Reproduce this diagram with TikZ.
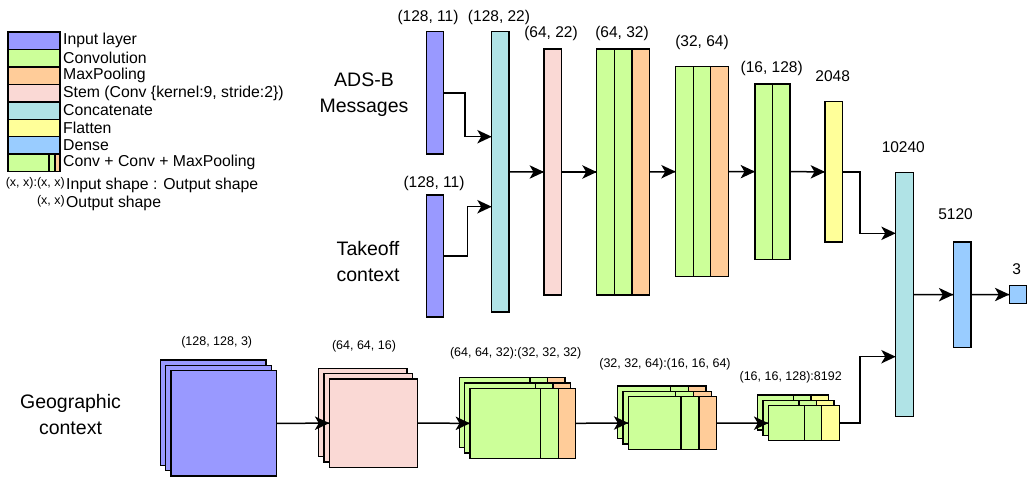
\documentclass[tikz,border=0pt]{standalone}
\usepackage{fontspec}
\setmainfont{Liberation Sans}
\definecolor{inpc}{HTML}{9999FF}
\definecolor{convc}{HTML}{CCFF99}
\definecolor{poolc}{HTML}{FFCC99}
\definecolor{stemc}{HTML}{FAD9D5}
\definecolor{catc}{HTML}{B0E3E6}
\definecolor{flatc}{HTML}{FFFF99}
\definecolor{densec}{HTML}{99CCFF}
\begin{document}
\begin{tikzpicture}[x=1pt,y=-1pt,
  blk/.style={draw=black, line width=1.4pt, inner sep=0pt, outer sep=0pt},
  sz/.style 2 args={minimum width=#1, minimum height=#2},
  inp/.style={blk, fill=inpc},
  cv/.style={blk, fill=convc},
  pl/.style={blk, fill=poolc},
  stm/.style={blk, fill=stemc},
  cat/.style={blk, fill=catc},
  flt/.style={blk, fill=flatc},
  dns/.style={blk, fill=densec},
  arr/.style={draw=black, line width=1.5pt},
  ahead/.pic={\fill[black] (0,0) -- (-14.5,-6.8) -- (-10.5,0) -- (-14.5,6.8) -- cycle;},
  lbl/.style={inner sep=0pt, font=\fontsize{15.5}{18}\selectfont},
  slbl/.style={inner sep=0pt, font=\fontsize{12.5}{15}\selectfont},
  leg/.style={inner sep=0pt, anchor=west, font=\fontsize{15.8}{18}\selectfont},
  big/.style={inner sep=0pt, align=center, font=\fontsize{19.5}{26}\selectfont}
]
\useasboundingbox (0,0) rectangle (1027,477);

% ---------- legend ----------
\node[inp, sz={52}{17.45}, anchor=north west] (l0) at (8,32) {};
\node[cv,  sz={52}{17.45}, anchor=north] (l1) at (l0.south) {};
\node[pl,  sz={52}{17.45}, anchor=north] (l2) at (l1.south) {};
\node[stm, sz={52}{17.45}, anchor=north] (l3) at (l2.south) {};
\node[cat, sz={52}{17.45}, anchor=north] (l4) at (l3.south) {};
\node[flt, sz={52}{17.45}, anchor=north] (l5) at (l4.south) {};
\node[dns, sz={52}{17.45}, anchor=north] (l6) at (l5.south) {};
\node[cv,  sz={41}{17.45}, anchor=north west] (l7a) at (l6.south west) {};
\node[cv,  sz={6}{17.45}, anchor=west] (l7b) at (l7a.east) {};
\node[pl,  sz={5}{17.45}, anchor=west] (l7c) at (l7b.east) {};
\node[leg] (t0) at ([xshift=3pt]l0.east) {Input layer};
\node[leg] (t1) at ([xshift=3pt]l1.east) {Convolution};
\node[leg] (t2) at ([xshift=3pt]l2.east) {MaxPooling};
\node[leg] (t3) at ([xshift=3pt]l3.east) {Stem (Conv \{kernel:9, stride:2\})};
\node[leg] (t4) at ([xshift=3pt]l4.east) {Concatenate};
\node[leg] (t5) at ([xshift=3pt]l5.east) {Flatten};
\node[leg] (t6) at ([xshift=3pt]l6.east) {Dense};
\node[leg] (t7) at ([xshift=3pt]l7c.east) {Conv + Conv + MaxPooling};
\node[slbl, anchor=east] (t8a) at (65,183.3) {(x, x):(x, x)};
\node[leg] (t8b) at (66,185) {Input shape : Output shape};
\node[slbl, anchor=east] (t9a) at (65,201) {(x, x)};
\node[leg] (t9b) at (66,203) {Output shape};

% ---------- top branch ----------
\node[big] (adsl) at (364,95) {ADS-B\\Messages};
\node[big] (tkol) at (368,262) {Takeoff\\context};

\node[inp, sz={16.6}{122.3}] (ads) at (435,92.85) {};
\node[inp, sz={16.6}{122}] (tko) at (435,256) {};
\node[cat, sz={17.3}{280.3}] (cat1) at (500.35,171.85) {};
\node[stm, sz={17.7}{246}] (stem1) at (552.85,172) {};
\node[cv, sz={17.55}{246}, anchor=west] (c1a) at (596.7,172) {};
\node[cv, sz={17.55}{246}, anchor=west] (c1b) at (c1a.east) {};
\node[pl, sz={17.55}{246}, anchor=west] (p1) at (c1b.east) {};
\node[cv, sz={17.53}{210}, anchor=west] (c2a) at (675.7,171.7) {};
\node[cv, sz={17.53}{210}, anchor=west] (c2b) at (c2a.east) {};
\node[pl, sz={17.53}{210}, anchor=west] (p2) at (c2b.east) {};
\node[cv, sz={17.5}{175.3}, anchor=west] (c3a) at (755,171.65) {};
\node[cv, sz={17.5}{175.3}, anchor=west] (c3b) at (c3a.east) {};
\node[flt, sz={17.7}{140.3}] (flat) at (833.85,171.85) {};
\node[cat, sz={17.6}{244.4}] (cat2) at (904.5,294.5) {};
\node[dns, sz={17.7}{105.3}] (dense) at (962.15,294.65) {};
\node[dns, sz={17.6}{17.6}] (out) at (1018.1,294.5) {};

\node[lbl] (la1) at (428,17.5) {(128, 11)};
\node[lbl] (la2) at (499,17.5) {(128, 22)};
\node[lbl] (la3) at (551,33.8) {(64, 22)};
\node[lbl] (la4) at (622,33.8) {(64, 32)};
\node[lbl] (la5) at (434,183.8) {(128, 11)};
\node[lbl] (la6) at (702,42.2) {(32, 64)};
\node[lbl] (la7) at (771.7,68.2) {(16, 128)};
\node[lbl] (la8) at (832.7,75.8) {2048};
\node[lbl] (la9) at (903.3,147.2) {10240};
\node[lbl] (la10) at (955.6,213.8) {5120};
\node[lbl] (la11) at (1016.7,269.5) {3};

% ---------- bottom branch ----------
\node[big] (geol) at (70.5,415) {Geographic\\context};

\foreach \d/\n in {10.6/2,5.3/1,0/0}{
  \node[inp, sz={105.7}{105.3}] (geo\n) at (223.85-\d,423.35-\d) {};
}
\foreach \d/\n in {10.6/2,5.3/1,0/0}{
  \node[stm, sz={88.4}{88.3}] (stemb\n) at (373.5-\d,423.15-\d) {};
}
\foreach \d/\n in {10.6/2,5.3/1,0/0}{
  \node[cv, sz={70.7}{70}, anchor=west] (Aa\n) at (470-\d,423.3-\d) {};
  \node[cv, sz={17.6}{70}, anchor=west] (Ab\n) at (Aa\n.east) {};
  \node[pl, sz={17.4}{70}, anchor=west] (Ac\n) at (Ab\n.east) {};
}
\foreach \d/\n in {10.6/2,5.3/1,0/0}{
  \node[cv, sz={52.7}{52.6}, anchor=west] (Ba\n) at (628.3-\d,423-\d) {};
  \node[cv, sz={18}{52.6}, anchor=west] (Bb\n) at (Ba\n.east) {};
  \node[pl, sz={17.7}{52.6}, anchor=west] (Bc\n) at (Bb\n.east) {};
}
\foreach \d/\n in {10.6/2,5.3/1,0/0}{
  \node[cv, sz={36}{35}, anchor=west] (Ca\n) at (768.3-\d,423.2-\d) {};
  \node[cv, sz={17.4}{35}, anchor=west] (Cb\n) at (Ca\n.east) {};
  \node[flt, sz={17.6}{35}, anchor=west] (Cc\n) at (Cb\n.east) {};
}

\node[slbl] (lb1) at (216.7,342) {(128, 128, 3)};
\node[slbl] (lb2) at (364,346.3) {(64, 64, 16)};
\node[slbl] (lb3) at (515.7,353.3) {(64, 64, 32):(32, 32, 32)};
\node[slbl] (lb4) at (665,364.7) {(32, 32, 64):(16, 16, 64)};
\node[slbl] (lb5) at (790.7,377) {(16, 16, 128):8192};

% ---------- connectors ----------
\coordinate (j1) at (465,136.7);
\coordinate (j2) at (467.7,206.7);
\coordinate (j3) at (860,233.3);
\coordinate (j4) at (860,356.7);
\draw[arr] (ads.east) -| (j1) -- (j1 -| cat1.west) pic {ahead};
\draw[arr] (tko.east) -| (j2) -- (j2 -| cat1.west) pic {ahead};
\draw[arr] (cat1.east) -- (stem1.west) pic {ahead};
\draw[arr] (stem1.east) -- (c1a.west) pic {ahead};
\draw[arr] (p1.east) -- (c2a.west) pic {ahead};
\draw[arr] (p2.east) -- (c3a.west) pic {ahead};
\draw[arr] (c3b.east) -- (flat.west) pic {ahead};
\draw[arr] (flat.east) -| (j3) -- (j3 -| cat2.west) pic {ahead};
\draw[arr] (cat2.east) -- (dense.west) pic {ahead};
\draw[arr] (dense.east) -- (out.west) pic {ahead};

\draw[arr] (geo0.east) -- (stemb0.west) pic {ahead};
\draw[arr] (stemb0.east) -- (Aa0.west) pic {ahead};
\draw[arr] (Ac0.east) -- (Ba0.west) pic {ahead};
\draw[arr] (Bc0.east) -- (Ca0.west) pic {ahead};
\draw[arr] (Cc0.east) -| (j4) -- (j4 -| cat2.west) pic {ahead};
\end{tikzpicture}
\end{document}
